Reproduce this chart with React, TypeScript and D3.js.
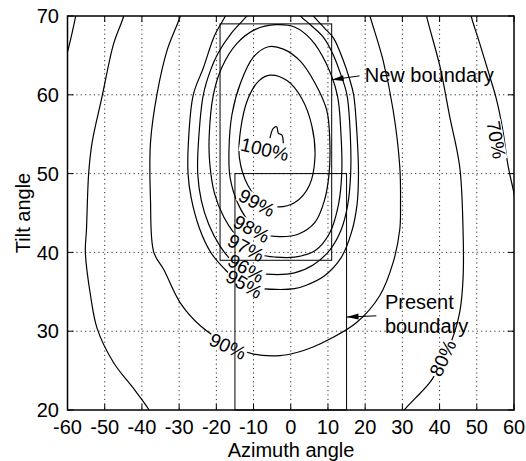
import React from "react";
import * as d3 from "d3";

type P = [number, number];

// axis ticks
const xTicks = [-60, -50, -40, -30, -20, -10, 0, 10, 20, 30, 40, 50, 60];
const yTicks = [20, 30, 40, 50, 60, 70];

// contour lines: [azimuth, tilt]
const c70Left: P[] = [[-57.5, 71], [-57.8, 70], [-58.7, 68], [-59.7, 66], [-60.8, 64]];
const c70Right: P[] = [[48.2, 71], [48.5, 70], [50.8, 66.5], [53.5, 62.3], [55.3, 59.4], [57, 55.5], [58.4, 51], [60, 47.5], [61, 45]];
const c80Left: P[] = [[-44.6, 71], [-44.9, 70], [-47.6, 66.5], [-50.7, 59.8], [-53.4, 53.9], [-54.3, 50.1], [-54.9, 42.9], [-55.2, 40], [-53.8, 34.5], [-52, 30.3], [-47.6, 26], [-42.2, 22.7], [-38.2, 20.1], [-37, 19]];
const c80Right: P[] = [[36.2, 71], [36.5, 70], [40.1, 63.6], [42.7, 57.3], [45.4, 50.9], [46.3, 43], [46.3, 36.6], [45.4, 32.4], [43, 28.5], [40, 25.5], [37.4, 23.5], [33.5, 21.5], [30.7, 20.1], [29.5, 19]];
const c90: P[] = [[-29.4, 71], [-29.7, 70], [-33.2, 65.7], [-35.9, 60.2], [-37.7, 53.9], [-37.7, 46.7], [-36.8, 40], [-34.1, 37.8], [-29.7, 33.6], [-24.3, 30.7], [-17, 28.4], [-10, 27.1], [-3, 26.9], [1.6, 27.3], [6, 28], [10.5, 29], [17.7, 31.1], [23.9, 34.5], [27.5, 38.7], [29.3, 42.9], [29.5, 46], [29.3, 50.9], [27.5, 58.1], [24.8, 64.4], [21.3, 70], [20.8, 71]];
const c95: P[] = [[-17.3, 70.5], [-17.6, 70], [-20.5, 67.5], [-23.5, 63.4], [-26.2, 60], [-27.5, 54], [-27.6, 50], [-26.8, 47], [-24.5, 43], [-21.5, 40], [-18, 38], [-14, 36.3], [-9, 35.5], [-4, 35.3], [1, 35.4], [4, 35.8], [9, 37], [13.5, 39.3], [16.3, 42.5], [17.8, 46], [18.2, 50], [17.8, 55], [16.9, 60], [15.8, 62], [14, 64.5], [11.5, 67.2], [9, 68.5], [6.1, 70], [5.5, 70.5]];
const c96: P[] = [[-11.3, 70.4], [-11.8, 70], [-16, 67.8], [-19.5, 65.3], [-21.5, 63.2], [-23.5, 60], [-24.8, 54], [-25, 50], [-24, 46.5], [-22, 43.5], [-19, 40.8], [-15.5, 38.8], [-11, 37.6], [-5, 37.2], [1, 37.4], [6, 38.4], [10.5, 40.3], [13.5, 42.8], [15.3, 46], [16.1, 50], [16, 55], [15.1, 60], [13.5, 62.5], [11.5, 65], [8.8, 67.3], [5.5, 68.8], [2.6, 70], [2, 70.4]];
const c97: P[] = [[-4, 68.9], [1, 68.6], [5.5, 67], [9.5, 64], [12.5, 60], [13.5, 55], [13.7, 50], [12.8, 46], [10.5, 42.5], [6.5, 40.2], [1, 39.4], [-4, 39.4], [-8, 39.7], [-12, 40.8], [-15, 42.3], [-18, 44.5], [-20.5, 47.5], [-21.8, 51.5], [-21.9, 55], [-20.8, 60], [-18.5, 63.5], [-14.5, 66.5], [-9.5, 68.3]];
const c98: P[] = [[-6, 66.1], [-2, 65.8], [2.5, 64.3], [6.5, 61.5], [9.7, 58], [10.5, 54], [10.3, 50], [9, 46.5], [6.5, 43.8], [2, 42.3], [-3, 42], [-7, 42.3], [-10.5, 43.5], [-14, 46], [-16.3, 49.5], [-16.6, 53], [-15.8, 57.5], [-13.5, 61.5], [-10, 64.8]];
const c99: P[] = [[-5.5, 62.5], [-1, 61.8], [3, 59.5], [5.7, 56], [6.5, 52], [5, 48.5], [1, 46.3], [-4, 45.8], [-8, 46.5], [-11.5, 48.5], [-13.8, 52], [-13.5, 55.5], [-11.5, 59.5], [-8.5, 61.8]];
const c100: P[] = [[-5.6, 54.5], [-4.7, 55.75], [-3.8, 55.95], [-3.3, 55.1], [-2.4, 54.9], [-2.0, 53.85]];

const contourLines: { pts: P[]; closed: boolean }[] = [
  { pts: c70Left, closed: false },
  { pts: c70Right, closed: false },
  { pts: c80Left, closed: false },
  { pts: c80Right, closed: false },
  { pts: c90, closed: false },
  { pts: c95, closed: false },
  { pts: c96, closed: false },
  { pts: c97, closed: true },
  { pts: c98, closed: true },
  { pts: c99, closed: true },
  { pts: c100, closed: false },
];

// contour labels: text, azimuth, tilt, rotation
const labelTexts = ["100%", "99%", "98%", "97%", "96%", "95%", "90%", "80%", "70%"];
const labelAz = [-7, -9.1, -10.5, -12.0, -12.0, -12.5, -16.9, 40.8, 55.3];
const labelTilt = [53.1, 46.3, 43.0, 40.6, 38.0, 36.0, 28.1, 26.6, 54.3];
const labelRot = [13, 28, 28, 28, 30, 30, 25, -65, 80];

// boundary rectangles [azMin, azMax, tiltMin, tiltMax]
const newBoundary = [-19, 11, 39, 69];
const presentBoundary = [-15, 15, 20, 50];

const W = 526;
const H = 461;
const L = 67.5, R = 514, T = 16, B = 410;
const FONT = "'Liberation Sans', Arial, Helvetica, sans-serif";

export default function App() {
  const x = d3.scaleLinear().domain([-60, 60]).range([L, R]);
  const y = d3.scaleLinear().domain([20, 70]).range([B, T]);

  const lineOpen = d3.line<P>().x((d) => x(d[0])).y((d) => y(d[1])).curve(d3.curveCatmullRom.alpha(0.5));
  const lineClosed = d3.line<P>().x((d) => x(d[0])).y((d) => y(d[1])).curve(d3.curveCatmullRomClosed.alpha(0.5));

  const labelFs = 19;
  const labels = labelTexts.map((t, i) => {
    let w = 0;
    for (const ch of t) w += ch === "%" ? 0.889 : 0.556;
    return { t, cx: x(labelAz[i]), cy: y(labelTilt[i]), rot: labelRot[i], w: w * labelFs };
  });

  const arrowHead = (tipX: number, tipY: number, fromX: number, fromY: number) => {
    const ang = Math.atan2(tipY - fromY, tipX - fromX);
    const len = 12, hw = 3;
    const bx = tipX - len * Math.cos(ang), by = tipY - len * Math.sin(ang);
    const px = -Math.sin(ang) * hw, py = Math.cos(ang) * hw;
    return `M${tipX},${tipY}L${bx + px},${by + py}L${bx - px},${by - py}Z`;
  };

  // annotation anchors in data units
  const newTip: P = [newBoundary[1], 61.9];
  const newTail: P = [18.5, 62.4];
  const presTip: P = [presentBoundary[1], 31.8];
  const presTail: P = [23.0, 31.95];

  return (
    <div style={{ position: "fixed", left: 0, top: 0, width: W, height: H, background: "#fff" }}>
      <svg width={W} height={H} viewBox={`0 0 ${W} ${H}`} style={{ display: "block", fontFamily: FONT }}>
        <defs>
          <clipPath id="plotClip">
            <rect x={L} y={T} width={R - L} height={B - T} />
          </clipPath>
        </defs>
        <rect x={0} y={0} width={W} height={H} fill="#fff" />
        {/* grid */}
        <g stroke="#333" strokeWidth={1} strokeDasharray="1.2 3.2">
          {xTicks.slice(1, -1).map((t) => (
            <line key={"gx" + t} x1={x(t)} x2={x(t)} y1={T} y2={B} />
          ))}
          {yTicks.slice(1, -1).map((t) => (
            <line key={"gy" + t} x1={L} x2={R} y1={y(t)} y2={y(t)} />
          ))}
        </g>
        {/* contours */}
        <g clipPath="url(#plotClip)" fill="none" stroke="#000" strokeWidth={1.2}>
          {contourLines.map((c, i) => (
            <path key={"c" + i} d={(c.closed ? lineClosed : lineOpen)(c.pts) || ""} />
          ))}
        </g>
        {/* label masks */}
        <g fill="#fff">
          {labels.map((l, i) => (
            <rect
              key={"m" + i}
              x={-l.w / 2 - 1}
              y={-7.5}
              width={l.w + 2}
              height={15}
              transform={`translate(${l.cx},${l.cy}) rotate(${l.rot})`}
            />
          ))}
        </g>
        {/* boundaries */}
        <g fill="none" stroke="#000" strokeWidth={1}>
          <rect
            x={x(newBoundary[0])}
            y={y(newBoundary[3])}
            width={x(newBoundary[1]) - x(newBoundary[0])}
            height={y(newBoundary[2]) - y(newBoundary[3])}
          />
          <rect
            x={x(presentBoundary[0])}
            y={y(presentBoundary[3])}
            width={x(presentBoundary[1]) - x(presentBoundary[0])}
            height={y(presentBoundary[2]) - y(presentBoundary[3])}
          />
        </g>
        {/* contour labels */}
        <g fontSize={labelFs} fill="#000" textAnchor="middle">
          {labels.map((l, i) => (
            <text key={"l" + i} transform={`translate(${l.cx},${l.cy}) rotate(${l.rot})`} dy="0.36em">
              {l.t}
            </text>
          ))}
        </g>
        {/* annotations */}
        <g stroke="#000" strokeWidth={1}>
          <line x1={x(newTail[0])} y1={y(newTail[1])} x2={x(newTip[0])} y2={y(newTip[1])} />
          <line x1={x(presTail[0])} y1={y(presTail[1])} x2={x(presTip[0])} y2={y(presTip[1])} />
        </g>
        <path d={arrowHead(x(newTip[0]), y(newTip[1]), x(newTail[0]), y(newTail[1]))} fill="#000" />
        <path d={arrowHead(x(presTip[0]), y(presTip[1]), x(presTail[0]), y(presTail[1]))} fill="#000" />
        <g fontSize={20} fill="#000">
          <text x={x(19.9)} y={y(61.6)}>New boundary</text>
          <text x={x(25.3)} y={y(32.8)}>Present</text>
          <text x={x(25.3)} y={y(29.75)}>boundary</text>
        </g>
        {/* axes box and ticks */}
        <rect x={L} y={T} width={R - L} height={B - T} fill="none" stroke="#000" strokeWidth={1.5} />
        <g stroke="#000" strokeWidth={1}>
          {xTicks.map((t) => (
            <g key={"tx" + t}>
              <line x1={x(t)} x2={x(t)} y1={B} y2={B - 6} />
              <line x1={x(t)} x2={x(t)} y1={T} y2={T + 6} />
            </g>
          ))}
          {yTicks.map((t) => (
            <g key={"ty" + t}>
              <line x1={L} x2={L + 6} y1={y(t)} y2={y(t)} />
              <line x1={R} x2={R - 6} y1={y(t)} y2={y(t)} />
            </g>
          ))}
        </g>
        <g fontSize={20} fill="#000">
          {xTicks.map((t) => (
            <text key={"xl" + t} x={x(t)} y={434} textAnchor="middle">
              {String(t)}
            </text>
          ))}
          {yTicks.map((t) => (
            <text key={"yl" + t} x={59} y={y(t)} dy="0.36em" textAnchor="end">
              {String(t)}
            </text>
          ))}
          <text x={291} y={456.5} textAnchor="middle">Azimuth angle</text>
          <text transform={`translate(29.5,${(T + B) / 2}) rotate(-90)`} textAnchor="middle">Tilt angle</text>
        </g>
      </svg>
    </div>
  );
}
